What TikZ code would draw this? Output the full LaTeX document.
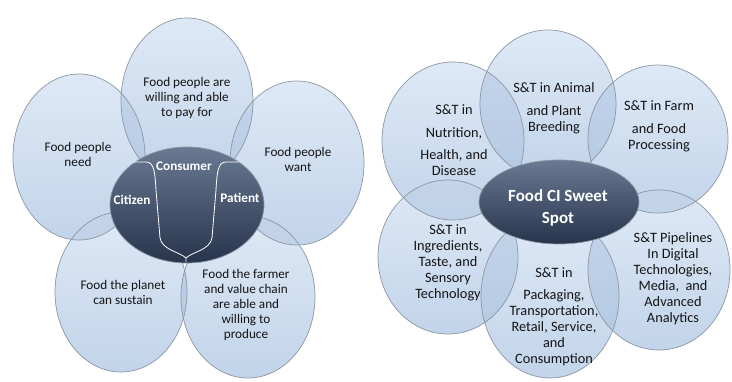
\documentclass[tikz,border=0pt]{standalone}
\usepackage{fontspec}
\setmainfont{Carlito}
\usetikzlibrary{shapes.geometric}
\definecolor{petaltop}{RGB}{222,233,246}
\definecolor{petalbot}{RGB}{194,212,234}
\definecolor{petalline}{RGB}{140,150,162}
\definecolor{overlap}{RGB}{120,155,200}
\definecolor{hubtop}{RGB}{106,122,146}
\definecolor{hubbot}{RGB}{38,52,76}
\definecolor{txt}{RGB}{20,20,20}
\tikzset{
  petal/.style={ellipse, top color=petaltop, bottom color=petalbot, inner sep=0pt},
  rim/.style={draw=petalline, line width=0.7pt},
  lap/.style={fill=overlap, fill opacity=0.25},
  hub/.style={ellipse, draw=petalline, line width=0.7pt, top color=hubtop, bottom color=hubbot, inner sep=0pt},
  ltext/.style={align=center, text=txt, font=\fontsize{13.2}{15}\selectfont, inner sep=0pt},
  rtext/.style={align=center, text=txt, font=\fontsize{14.3}{16}\selectfont, inner sep=0pt},
  htext/.style={align=center, text=white, font=\bfseries\fontsize{13.2}{14}\selectfont, inner sep=0pt},
  rhtext/.style={align=center, text=white, font=\bfseries\fontsize{17}{22}\selectfont, inner sep=0pt},
  divider/.style={draw=white, line width=0.8pt}
}
\begin{document}
\begin{tikzpicture}[x=1pt,y=-1pt]
\useasboundingbox (0,0) rectangle (732,382);
% ---------- left diagram: petals ----------
\node[petal, minimum width=132pt, minimum height=166pt] (Ltop) at (187,101) {};
\node[petal, minimum width=132pt, minimum height=166pt] (Lleft) at (79,157) {};
\node[petal, minimum width=134pt, minimum height=164pt] (Lright) at (297,163) {};
\node[petal, minimum width=132pt, minimum height=160pt] (Lbl) at (121,292) {};
\node[petal, minimum width=134pt, minimum height=162pt] (Lbr) at (248,297) {};
% overlaps
\begin{scope}\clip (187,101) ellipse [x radius=66, y radius=83]; \fill[lap] (79,157) ellipse [x radius=66, y radius=83]; \end{scope}
\begin{scope}\clip (187,101) ellipse [x radius=66, y radius=83]; \fill[lap] (297,163) ellipse [x radius=67, y radius=82]; \end{scope}
\begin{scope}\clip (79,157) ellipse [x radius=66, y radius=83]; \fill[lap] (121,292) ellipse [x radius=66, y radius=80]; \end{scope}
\begin{scope}\clip (297,163) ellipse [x radius=67, y radius=82]; \fill[lap] (248,297) ellipse [x radius=67, y radius=81]; \end{scope}
\begin{scope}\clip (121,292) ellipse [x radius=66, y radius=80]; \fill[lap] (248,297) ellipse [x radius=67, y radius=81]; \end{scope}
% rims
\draw[rim] (187,101) ellipse [x radius=66, y radius=83];
\draw[rim] (79,157) ellipse [x radius=66, y radius=83];
\draw[rim] (297,163) ellipse [x radius=67, y radius=82];
\draw[rim] (121,292) ellipse [x radius=66, y radius=80];
\draw[rim] (248,297) ellipse [x radius=67, y radius=81];
\node[hub, minimum width=154pt, minimum height=116pt] (Lhub) at (187,205) {};
\node[ltext] (tLtop) at (187,98) {Food people are\\willing and able\\to pay for};
\node[ltext] (tLleft) at (78,154) {Food people\\need};
\node[ltext] (tLright) at (298,159) {Food people\\want};
\node[ltext] (tLbl) at (123,292) {Food the planet\\can sustain};
\node[ltext] (tLbr) at (246,305) {Food the farmer\\and value chain\\are able and\\willing to\\produce};
\draw[divider] (133,162) -- (146,162) .. controls (154,162) and (155,172) .. (156,190) -- (160,238) .. controls (162,250) and (180,252) .. (186,258);
\draw[divider] (239,162) -- (226,162) .. controls (218,162) and (217,172) .. (216,190) -- (212,238) .. controls (210,250) and (192,252) .. (186,258) -- (186,262);
\node[htext] (consumer) at (184,166) {Consumer};
\node[htext] (citizen) at (132,200) {Citizen};
\node[htext] (patient) at (240,198) {Patient};
% ---------- right diagram: petals ----------
\node[petal, minimum width=136pt, minimum height=148pt] (Rtop) at (548,104) {};
\node[petal, minimum width=142pt, minimum height=158pt] (Rtl) at (453,141) {};
\node[petal, minimum width=140pt, minimum height=148pt] (Rtr) at (658,139) {};
\node[petal, minimum width=140pt, minimum height=154pt] (Rbl) at (448,257) {};
\node[petal, minimum width=142pt, minimum height=160pt] (Rbr) at (659,270) {};
\node[petal, minimum width=138pt, minimum height=164pt] (Rbot) at (550,296) {};
% overlaps
\begin{scope}\clip (548,104) ellipse [x radius=68, y radius=74]; \fill[lap] (453,141) ellipse [x radius=71, y radius=79]; \end{scope}
\begin{scope}\clip (548,104) ellipse [x radius=68, y radius=74]; \fill[lap] (658,139) ellipse [x radius=70, y radius=74]; \end{scope}
\begin{scope}\clip (453,141) ellipse [x radius=71, y radius=79]; \fill[lap] (448,257) ellipse [x radius=70, y radius=77]; \end{scope}
\begin{scope}\clip (658,139) ellipse [x radius=70, y radius=74]; \fill[lap] (659,270) ellipse [x radius=71, y radius=80]; \end{scope}
\begin{scope}\clip (448,257) ellipse [x radius=70, y radius=77]; \fill[lap] (550,296) ellipse [x radius=69, y radius=82]; \end{scope}
\begin{scope}\clip (550,296) ellipse [x radius=69, y radius=82]; \fill[lap] (659,270) ellipse [x radius=71, y radius=80]; \end{scope}
% rims
\draw[rim] (548,104) ellipse [x radius=68, y radius=74];
\draw[rim] (453,141) ellipse [x radius=71, y radius=79];
\draw[rim] (658,139) ellipse [x radius=70, y radius=74];
\draw[rim] (448,257) ellipse [x radius=70, y radius=77];
\draw[rim] (659,270) ellipse [x radius=71, y radius=80];
\draw[rim] (550,296) ellipse [x radius=69, y radius=82];
\node[hub, minimum width=160pt, minimum height=84pt] (Rhub) at (559,202) {};
\node[rtext] (tRtl) at (454,140) {S\&T in\\[7pt]Nutrition,\\[6pt]Health, and\\Disease};
\node[rtext] (tRtop) at (554,108) {S\&T in Animal\\[7pt]and Plant\\Breeding};
\node[rtext] (tRtr) at (659,126) {S\&T in Farm\\[7pt]and Food\\Processing};
\node[rtext] (tRbl) at (448,263) {S\&T in\\Ingredients,\\Taste, and\\Sensory\\Technology};
\node[rtext] (tRbot) at (554,317) {S\&T in\\[6pt]Packaging,\\Transportation,\\Retail, Service,\\and\\Consumption};
\node[rtext] (tRbr) at (673,279) {S\&T Pipelines\\In Digital\\Technologies,\\Media,\ \ and\\Advanced\\Analytics};
\node[rhtext] (sweet) at (558,208) {Food CI Sweet\\Spot};
\end{tikzpicture}
\end{document}
